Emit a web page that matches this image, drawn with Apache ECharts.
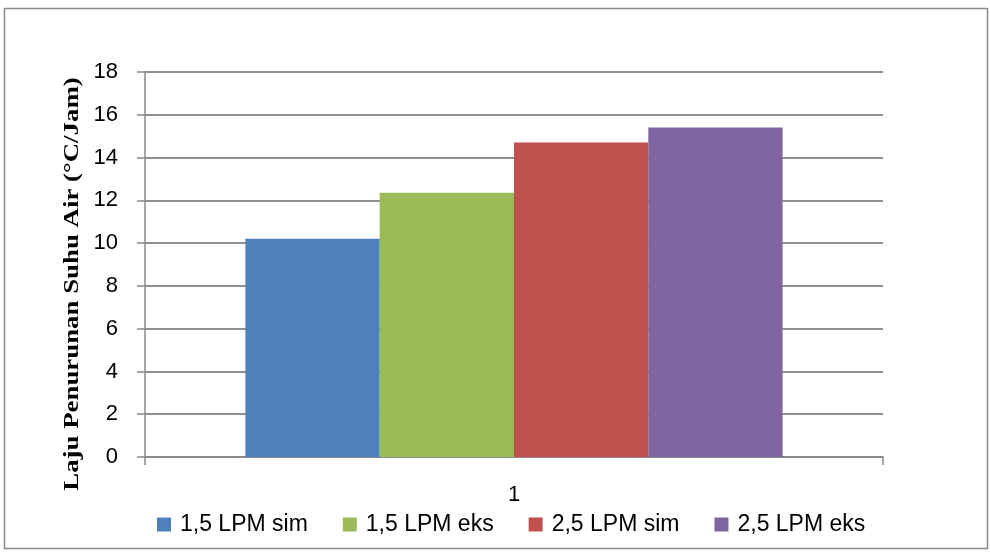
<!DOCTYPE html>
<html>
<head>
<meta charset="utf-8">
<script src="https://cdn.jsdelivr.net/npm/echarts@6/dist/echarts.min.js"></script>
<style>
  html, body { margin: 0; padding: 0; background: #fff; }
  #chart { width: 990px; height: 553px; }
</style>
</head>
<body>
<div id="chart"></div>
<script>
// Cooling rate of the water for two flow rates, simulation vs experiment
const categories = ['1'];
const seriesNames = ['1,5 LPM sim', '1,5 LPM eks', '2,5 LPM sim', '2,5 LPM eks'];
const seriesValues = [[10.2], [12.35], [14.7], [15.4]];
const seriesColors = ['#4F81BD', '#9BBB59', '#C0504D', '#8064A2'];
const yTicks = { min: 0, max: 18, interval: 2 };
const yTitle = 'Laju Penurunan Suhu Air (°C/Jam)';

const chart = echarts.init(document.getElementById('chart'));
const labelFont = 'Liberation Sans';

chart.setOption({
  animation: false,
  grid: { left: 145, right: 107, top: 72, bottom: 96 },
  legend: {
    data: seriesNames,
    left: 152,
    top: 508,
    itemWidth: 14,
    itemHeight: 14,
    itemGap: 35,
    icon: 'rect',
    textStyle: { fontFamily: labelFont, fontSize: 23, color: '#000', padding: [0, 0, 0, 4] }
  },
  xAxis: {
    type: 'category',
    data: categories,
    axisLine: { lineStyle: { color: '#888', width: 1.5 } },
    axisTick: { show: true, length: 8, lineStyle: { color: '#888', width: 1.5 } },
    axisLabel: { margin: 27, fontFamily: labelFont, fontSize: 22, color: '#000' }
  },
  yAxis: {
    type: 'value',
    min: yTicks.min,
    max: yTicks.max,
    interval: yTicks.interval,
    axisLine: { show: true, lineStyle: { color: '#888', width: 1.5 } },
    axisTick: { show: true, length: 8, lineStyle: { color: '#888', width: 1.5 } },
    axisLabel: { margin: 27, fontFamily: labelFont, fontSize: 22, color: '#000' },
    splitLine: { lineStyle: { color: '#8f8f8f', width: 2 } }
  },
  series: seriesNames.map((name, i) => ({
    name,
    type: 'bar',
    data: seriesValues[i],
    itemStyle: { color: seriesColors[i] },
    barGap: '0%',
    barCategoryGap: '27.2%'
  })),
  graphic: [
    {
      type: 'rect',
      shape: { x: 4.5, y: 8.5, width: 983, height: 540 },
      style: { fill: 'none', stroke: '#8a8a8a', lineWidth: 1.5 },
      silent: true
    },
    {
      // vertical axis title, stretched along its length
      type: 'text',
      x: 72,
      y: 284,
      rotation: Math.PI / 2,
      scaleX: 1.22,
      style: {
        text: yTitle,
        fontFamily: 'Liberation Serif',
        fontWeight: 'bold',
        fontSize: 22,
        fill: '#000',
        textAlign: 'center',
        textVerticalAlign: 'middle'
      }
    }
  ]
});
</script>
</body>
</html>
